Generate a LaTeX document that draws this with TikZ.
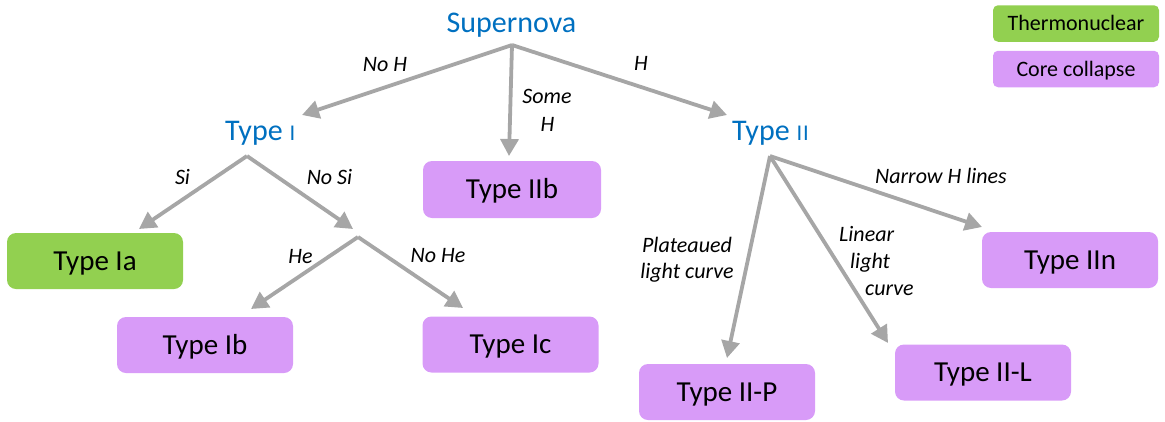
\documentclass[tikz,border=0pt]{standalone}
\usepackage{fontspec}
\setmainfont{Carlito}
\usetikzlibrary{arrows.meta}

\definecolor{snblue}{RGB}{0,112,192}
\definecolor{arrowgray}{RGB}{166,166,166}
\definecolor{thermo}{RGB}{146,208,80}
\definecolor{corecol}{RGB}{216,155,248}

\begin{document}
\begin{tikzpicture}[x=1pt,y=-1pt,
  typebox/.style={rectangle, rounded corners=9pt, minimum width=176pt,
    minimum height=56pt, inner sep=0pt, text height=18.7pt, text depth=0pt,
    font=\fontsize{29}{35}\selectfont},
  keybox/.style={rectangle, rounded corners=5pt, minimum width=166pt,
    minimum height=36.5pt, inner sep=0pt, text height=14.2pt, text depth=0pt,
    font=\fontsize{22}{26}\selectfont},
  heading/.style={text=snblue, inner sep=0pt, font=\fontsize{30}{36}\selectfont},
  branch/.style={inner sep=0pt, text height=14.2pt, text depth=0pt,
    font=\fontsize{22}{26}\selectfont\itshape},
  link/.style={draw=arrowgray, line width=3.8pt,
    -{Triangle[length=17pt,width=18pt]}},
]
\useasboundingbox (0,0) rectangle (1165,421);

% headings (the roman numerals are set smaller, as small capitals)
\node[heading, text height=19.3pt, text depth=0pt] (sn) at (511.5,23.3) {Supernova};
\node[heading, anchor=base west] (t1) at (225,140) {Type {\fontsize{22.5}{22}\selectfont I}};
\node[heading, anchor=base west] (t2) at (732,140) {Type {\fontsize{22.5}{22}\selectfont I\kern1pt I}};

% legend
\node[keybox, fill=thermo] (kthermo) at (1076,23.5) {Thermonuclear};
\node[keybox, fill=corecol] (kcore) at (1076,69) {Core collapse};

% leaf classes
\node[typebox, fill=corecol, minimum width=178pt, minimum height=57pt] (iib) at (512,189.5) {Type IIb};
\node[typebox, fill=thermo] (ia) at (95,261) {Type Ia};
\node[typebox, fill=corecol] (ib) at (205,345) {Type Ib};
\node[typebox, fill=corecol] (ic) at (510.5,344.5) {Type Ic};
\node[typebox, fill=corecol] (iin) at (1070,260) {Type IIn};
\node[typebox, fill=corecol] (iil) at (983,372.5) {Type II-L};
\node[typebox, fill=corecol] (iip) at (727,392) {Type II-P};

% branching points and arrow ends
\coordinate (snA) at (512,45);
\coordinate (t1A) at (247,156);
\coordinate (t2A) at (770,156);
\coordinate (jA) at (358,237);
\coordinate (t1End) at (302,115);
\coordinate (t2End) at (727,115);
\coordinate (iibEnd) at (509,156);
\coordinate (iaEnd) at (139,229);
\coordinate (jEnd) at (353,229);
\coordinate (ibEnd) at (251,309);
\coordinate (icEnd) at (463,308);
\coordinate (iipEnd) at (727,358);
\coordinate (iilEnd) at (888,343);
\coordinate (iinEnd) at (982,227);

% connectors
\draw[link] (snA) -- (t1End);
\draw[link] (snA) -- (iibEnd);
\draw[link] (snA) -- (t2End);
\draw[link] (t1A) -- (iaEnd);
\draw[link] (t1A) -- (jEnd);
\draw[link] (jA) -- (ibEnd);
\draw[link] (jA) -- (icEnd);
\draw[link] (t2A) -- (iipEnd);
\draw[link] (t2A) -- (iilEnd);
\draw[link] (t2A) -- (iinEnd);

% branch labels
\node[branch] (lnoh) at (385,64.5) {No H};
\node[branch] (lsome) at (547,96) {Some};
\node[branch] (lsomeh) at (547.5,124) {H};
\node[branch] (lh) at (641,63) {H};
\node[branch] (lsi) at (182.5,177.5) {Si};
\node[branch] (lnosi) at (329.5,177.5) {No Si};
\node[branch] (lhe) at (300.5,256) {He};
\node[branch] (lnohe) at (438,255.5) {No He};
\node[branch] (lplat) at (687,245) {Plateaued};
\node[branch] (lplat2) at (687,271) {light curve};
\node[branch, anchor=base west] (llin) at (839,241) {Linear};
\node[branch, anchor=base west] (llin2) at (850,268) {light};
\node[branch, anchor=base west] (llin3) at (865,295) {curve};
\node[branch] (lnarrow) at (941,176) {Narrow H lines};
\end{tikzpicture}
\end{document}
